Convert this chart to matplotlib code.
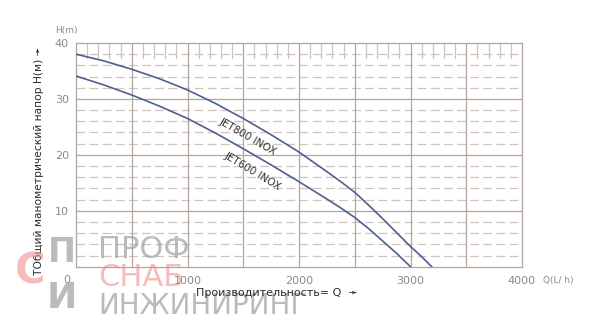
import numpy as np
import matplotlib
matplotlib.use("Agg")
import matplotlib.pyplot as plt

# ---- data ----
q_jet800 = [0, 250, 500, 750, 1000, 1250, 1500, 1750, 2000, 2250, 2375, 2500, 2625, 2750, 2875, 3000, 3100, 3190]
h_jet800 = [38.0, 36.8, 35.3, 33.6, 31.6, 29.2, 26.5, 23.6, 20.5, 17.0, 15.2, 13.3, 11.0, 8.6, 6.1, 3.6, 1.8, 0.0]
q_jet600 = [0, 250, 500, 750, 1000, 1250, 1500, 1750, 2000, 2250, 2375, 2500, 2625, 2750, 2875, 3000]
h_jet600 = [34.1, 32.5, 30.7, 28.7, 26.5, 23.9, 21.1, 18.2, 15.2, 12.1, 10.5, 8.8, 6.8, 4.6, 2.4, 0.0]
x_ticks = [1000, 2000, 3000, 4000]
y_ticks = [10, 20, 30, 40]
label_800 = "JET800 INOX"
label_600 = "JET600 INOX"

grid_solid = "#b2a69e"
grid_dash = "#cfc5be"
curve_c = "#4f5f8f"
tick_c = "#8a8a8a"

fig = plt.figure(figsize=(6, 3.3), dpi=100)
ax = fig.add_axes([76/600, 1-266.7/330, (522-76)/600, (266.7-43)/330])
ax.set_xlim(0, 4000)
ax.set_ylim(0, 40)

# grid
for yv in np.arange(2, 40, 2):
    if yv % 10 == 0:
        ax.axhline(yv, color=grid_solid, lw=0.9, zorder=1)
    else:
        ax.axhline(yv, color=grid_dash, lw=0.9, ls=(0, (7, 3.5)), zorder=1)
for xv in np.arange(500, 4000, 500):
    ax.axvline(xv, color=grid_solid, lw=0.9, zorder=1)
for xv in np.arange(100, 4000, 100):
    if xv % 500 != 0:
        ax.plot([xv, xv], [37.3, 40], color=grid_dash, lw=0.9, zorder=1)
for s in ax.spines.values():
    s.set_color(grid_solid)
    s.set_linewidth(0.9)

ax.plot(q_jet800, h_jet800, color=curve_c, lw=1.2, zorder=3)
ax.plot(q_jet600, h_jet600, color=curve_c, lw=1.2, zorder=3)

ax.set_xticks(x_ticks)
ax.set_yticks(y_ticks)
ax.tick_params(length=0, colors=tick_c, labelsize=8, pad=5)
ax.tick_params(axis='x', pad=7)
for t in ax.get_xticklabels() + ax.get_yticklabels():
    t.set_color(tick_c)

ax.text(-85, -1.5, "0", color=tick_c, fontsize=8, ha="center", va="top")
ax.text(4190, -1.6, "Q(L/ h)", color=tick_c, fontsize=6.5, ha="left", va="top")
ax.text(-90, 41.5, "H(m)", color=tick_c, fontsize=6.5, ha="center", va="bottom")

ax.text(1540, 23.2, label_800, rotation=-30, fontsize=7.5, color="#333333",
        ha="center", va="center", rotation_mode="anchor", zorder=4)
ax.text(1580, 17.0, label_600, rotation=-31, fontsize=7.5, color="#333333",
        ha="center", va="center", rotation_mode="anchor", zorder=4)

fig.text(39/600, 1-161/330, "ТОбщий манометрический напор H(м) ➛", rotation=90,
         fontsize=7.7, color="#2a2a2a", ha="center", va="center", fontweight="medium")
fig.text(277/600, 1-293/330, "Производительность= Q  ➛", fontsize=8,
         color="#2a2a2a", ha="center", va="center", zorder=11, fontweight="medium")

# watermark
wm_gray = (0.62, 0.62, 0.62, 0.7)
wm_pink = (0.94, 0.52, 0.52, 0.55)
fig.text(98/600, 1-250/330, "ПРОФ", fontsize=22, color=wm_gray, ha="left", va="center",
         family="DejaVu Sans", zorder=10)
fig.text(98/600, 1-277/330, "СНАБ", fontsize=22, color=wm_pink, ha="left", va="center",
         family="DejaVu Sans", zorder=10)
fig.text(98/600, 1-306/330, "ИНЖИНИРИНГ", fontsize=20, color=wm_gray, ha="left", va="center",
         family="DejaVu Sans", zorder=10)
fig.text(62/600, 1-252/330, "П", fontsize=24, color=wm_gray, ha="center", va="center",
         fontweight="bold", zorder=10)
fig.text(30/600, 1-272/330, "С", fontsize=30, color=wm_pink, ha="center", va="center",
         fontweight="bold", zorder=10)
fig.text(62/600, 1-298/330, "И", fontsize=26, color=wm_gray, ha="center", va="center",
         fontweight="bold", zorder=10)

fig.savefig("out.png", dpi=100)
